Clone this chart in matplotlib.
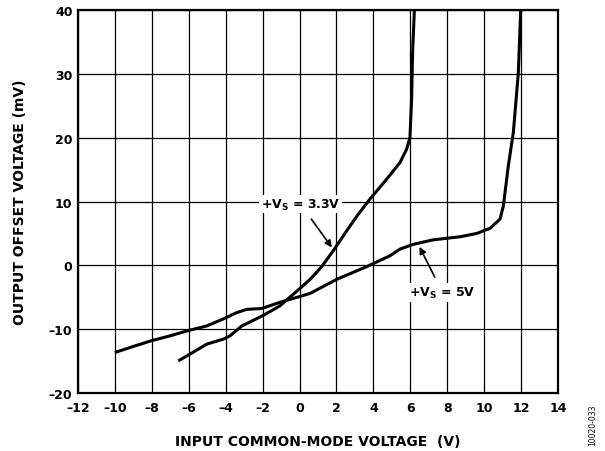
import numpy as np
import matplotlib
matplotlib.use("Agg")
import matplotlib.pyplot as plt

plt.rcParams['font.family'] = ['DejaVu Sans']
plt.rcParams['font.weight'] = 'bold'
plt.rcParams['mathtext.fontset'] = 'dejavusans'

# +Vs = 3.3V curve (input common-mode V, output offset mV)
vcm_33 = [-6.57, -5.93, -5.03, -4.13, -3.77, -3.13, -2.0, -1.06, -0.01, 0.57, 0.75, 1.2, 1.83,
          2.55, 3.18, 3.82, 4.72, 5.44, 5.8, 5.98, 6.07, 6.13, 6.22]
vos_33 = [-14.97, -13.9, -12.35, -11.57, -11.05, -9.5, -7.9, -6.35, -3.7, -2.2, -1.65, -0.2, 2.3,
          5.4, 8.0, 10.4, 13.5, 16.1, 18.2, 20.0, 26.05, 33.9, 39.9]

# +Vs = 5V curve
vcm_5 = [-10.0, -9.0, -8.01, -7.02, -6.0, -5.03, -4.13, -3.4, -2.86, -2.05, -1.06, -0.01, 0.57,
         2.01, 3.64, 4.9, 5.44, 6.17, 7.25, 8.69, 9.6, 10.32, 10.86, 11.04, 11.31, 11.58, 11.85, 11.98]
vos_5 = [-13.65, -12.7, -11.8, -11.05, -10.2, -9.5, -8.4, -7.4, -6.9, -6.76, -5.8, -4.9, -4.4,
         -2.2, -0.2, 1.5, 2.54, 3.3, 4.0, 4.47, 5.0, 5.8, 7.24, 9.3, 15.6, 20.8, 30.1, 39.9]

xticks = np.arange(-12, 15, 2)
yticks = np.arange(-20, 41, 10)

fig = plt.figure(figsize=(6.05, 4.52), dpi=100)
ax = fig.add_axes([78/605, 1 - 394/452, 480/605, 383/452])

ax.plot(vcm_33, vos_33, color='black', lw=2.2, solid_joinstyle='round', solid_capstyle='butt', zorder=3)
ax.plot(vcm_5, vos_5, color='black', lw=2.2, solid_joinstyle='round', solid_capstyle='butt', zorder=3)

ax.set_xlim(-12, 14)
ax.set_ylim(-20, 40)
ax.set_xticks(xticks)
ax.set_yticks(yticks)
ax.set_xticklabels([str(v).replace('-', '–') for v in xticks])
ax.set_yticklabels([str(v).replace('-', '–') for v in yticks])
ax.tick_params(length=0, labelsize=9, pad=4)
ax.tick_params(axis='x', pad=6)
ax.grid(True, color='black', lw=0.9)
for s in ax.spines.values():
    s.set_linewidth(1.6)

ax.set_xlabel('INPUT COMMON-MODE VOLTAGE  (V)', fontsize=10, fontweight='bold', labelpad=14)
ax.set_ylabel('OUTPUT OFFSET VOLTAGE (mV)', fontsize=10, fontweight='bold', labelpad=16)

bbox = dict(boxstyle='square,pad=0.15', fc='white', ec='none')
ax.annotate(r'+V$_\mathbf{S}$ = 3.3V', xy=(1.75, 2.8), xytext=(0.05, 9.6),
            ha='center', va='center', fontsize=9, fontweight='bold', bbox=bbox,
            arrowprops=dict(arrowstyle='-|>', color='black', lw=1.2, mutation_scale=10,
                            shrinkA=5, shrinkB=0), zorder=4)
ax.annotate(r'+V$_\mathbf{S}$ = 5V', xy=(6.5, 2.9), xytext=(7.75, -4.3),
            ha='center', va='center', fontsize=9, fontweight='bold', bbox=bbox,
            arrowprops=dict(arrowstyle='-|>', color='black', lw=1.2, mutation_scale=10,
                            shrinkA=5, shrinkB=0), zorder=4)

fig.text(593/605, 1 - 425/452, '10020-033', rotation=90, fontsize=5.5,
         fontweight='normal', ha='center', va='center')

fig.savefig('out.png', dpi=100)
